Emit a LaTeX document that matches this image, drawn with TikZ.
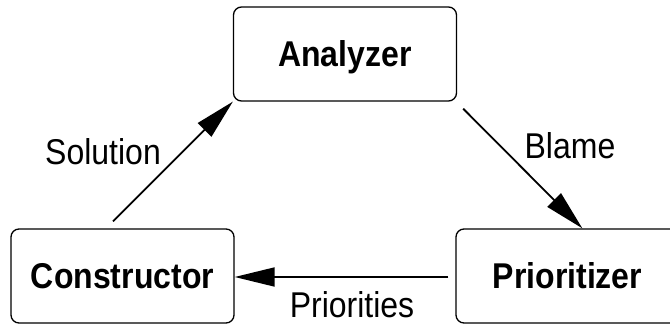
\documentclass[tikz,border=0pt]{standalone}
\usepackage{fontspec}
\setmainfont{Liberation Sans}
\usetikzlibrary{arrows.meta,calc}
\newcommand{\tallt}[1]{\scalebox{1}[1.12]{#1}}
\begin{document}
\begin{tikzpicture}[x=1pt,y=-1pt,
 box/.style={draw, line width=1.3pt, rounded corners=8pt, minimum width=223pt, minimum height=94pt,
   font=\fontsize{32}{38}\selectfont\bfseries, text height=25.6pt, text depth=0pt, inner sep=0pt},
 conn/.style={line width=1.8pt, -{Triangle[length=40pt,width=19pt]}},
 lbl/.style={font=\fontsize{32}{38}\selectfont, text height=25.6pt, text depth=0pt, inner sep=0pt}]
\useasboundingbox (0,0) rectangle (670,326);
\node[box] (A) at (345,54) {\tallt{Analyzer}};
\node[box] (C) at (122.5,276) {\tallt{Constructor}};
\node[box] (P) at (567.5,276) {\tallt{Prioritizer}};
\coordinate (s1) at ($(C.north)+(-9.5,-7)$);
\coordinate (s2) at ($(A.south east)+(6,7)$);
\coordinate (t2) at ($(P.north west)+(127,0)$);
\coordinate (s3) at ($(P.west)+(-7,1)$);
\coordinate (t3) at ($(C.east)+(0,1)$);
\draw[conn] (s1) -- (A.south west);
\draw[conn] (s2) -- (t2);
\draw[conn] (s3) -- (t3);
\node[lbl] (l1) at (103,152) {\tallt{Solution}};
\node[lbl] (l2) at (570,146) {\tallt{Blame}};
\node[lbl] (l3) at (352,305) {\tallt{Priorities}};
\end{tikzpicture}
\end{document}
